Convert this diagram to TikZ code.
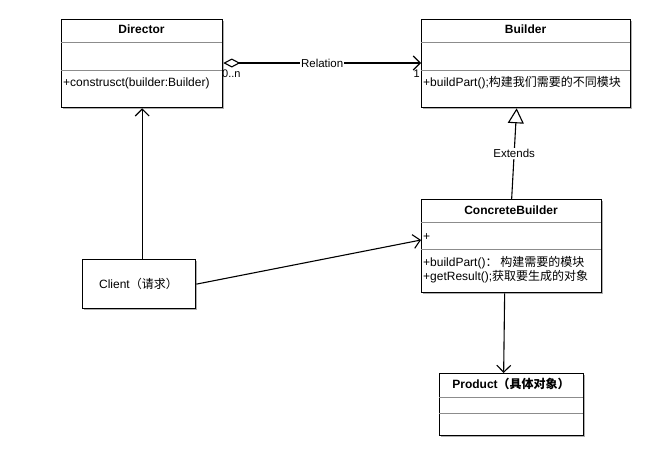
\documentclass[tikz,border=0pt]{standalone}
\usepackage{fontspec}
\setmainfont{Liberation Sans}
\newfontfamily\cjk{Noto Sans CJK SC}
\usetikzlibrary{arrows.meta,shadows}

\begin{document}
\begin{tikzpicture}[x=1pt,y=-1pt,
  font=\fontsize{12}{14}\selectfont,
  classbox/.style={draw=black, line width=1.3pt, fill=white, inner sep=0pt,
    anchor=north west,
    drop shadow={shadow xshift=1.2pt, shadow yshift=-1.8pt, fill=black!45, opacity=0.7}},
  sepline/.style={draw=black!45, line width=0.6pt},
  title/.style={font=\fontsize{12}{14}\selectfont\bfseries, inner sep=0pt},
  member/.style={anchor=west, inner sep=0pt, align=left},
  conn/.style={draw=black, line width=1.1pt},
  openarrow/.style={conn, -{Straight Barb[length=7pt, width=14pt, line width=1.1pt]}},
  lbl/.style={fill=white, inner sep=1pt, font=\fontsize{11.5}{13}\selectfont}
]
\useasboundingbox (0,0) rectangle (656,450);

% ---- Director ----
\node[classbox, minimum width=161pt, minimum height=88pt] (dir) at (61,19) {};
\draw[sepline] (61,42) -- (222,42);
\draw[sepline] (61,70) -- (222,70);
\node[title] (dirT) at (141.5,29.5) {Director};
\node[member] (dirM) at (63,83) {+construsct(builder:Builder)};

% ---- Builder ----
\node[classbox, minimum width=209pt, minimum height=88pt] (bld) at (421,19) {};
\draw[sepline] (421,42) -- (630,42);
\draw[sepline] (421,70) -- (630,70);
\node[title] (bldT) at (525.5,29.5) {Builder};
\node[member] (bldM) at (423,83) {+buildPart();{\cjk 构建我们需要的不同模块}};

% ---- ConcreteBuilder ----
\node[classbox, minimum width=180pt, minimum height=93pt] (cb) at (421,199) {};
\draw[sepline] (421,222) -- (601,222);
\draw[sepline] (421,249) -- (601,249);
\node[title] (cbT) at (511,210) {ConcreteBuilder};
\node[member] (cbA) at (423,237) {+};
\node[member] (cbM1) at (423,263) {+buildPart(){\cjk ：\ 构建需要的模块}};
\node[member] (cbM2) at (423,277) {+getResult();{\cjk 获取要生成的对象}};

% ---- Client ----
\node[classbox, minimum width=113pt, minimum height=49pt] (cl) at (82,259) {};
\node[inner sep=0pt] (clT) at (138.5,283.5) {Client{\cjk （请求）}};

% ---- Product ----
\node[classbox, minimum width=144pt, minimum height=62pt] (pr) at (439,373) {};
\draw[sepline] (439,397) -- (583,397);
\draw[sepline] (439,413) -- (583,413);
\node[title] (prT) at (511,384) {Product{\cjk\bfseries （具体对象）}};

% ---- Connectors ----
% aggregation Director -> Builder
\draw[conn, {Diamond[open, fill=white, length=17pt, width=9pt, line width=1.1pt]}-{Straight Barb[length=7pt, width=14pt, line width=1.1pt]}]
  ([yshift=-44pt]dir.north east) -- node[lbl] (rel) {Relation} ([yshift=-44pt]bld.north west);
\node[anchor=north west, inner sep=0pt, font=\fontsize{11}{12}\selectfont] (mult0) at (222,70) {0..n};
\node[anchor=north east, inner sep=0pt, font=\fontsize{11}{12}\selectfont] (mult1) at (420,70) {1};

% generalisation ConcreteBuilder -> Builder
\draw[conn, -{Triangle[open, fill=white, length=15pt, width=16pt, line width=1.1pt]}]
  (cb.north) -- node[lbl] (ext) {Extends} ([xshift=-9.5pt]bld.south);

% Client -> Director
\draw[openarrow] (dir.south |- cl.north) -- (dir.south);

% Client -> ConcreteBuilder
\draw[openarrow] (cl.east) -- (cb.west |- 0,240);

% ConcreteBuilder -> Product
\draw[openarrow] ([xshift=-7pt]cb.south) -- ([xshift=-8pt]pr.north);
\end{tikzpicture}
\end{document}
